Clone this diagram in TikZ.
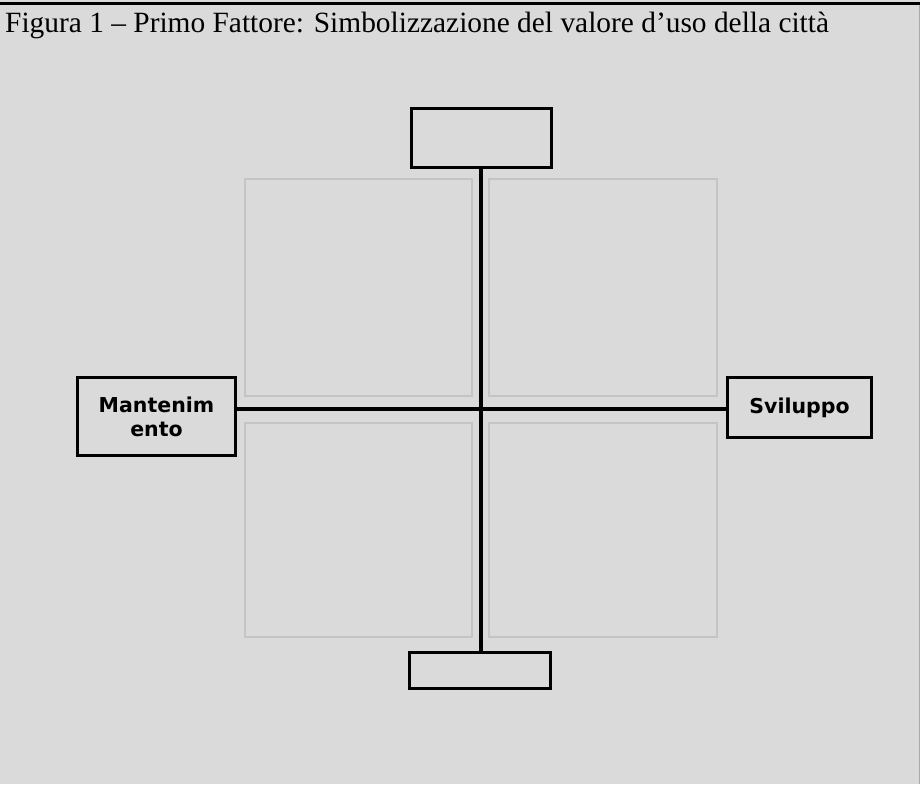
\documentclass[tikz,border=0pt]{standalone}
\usepackage{fontspec}
\setmainfont{Liberation Serif}
\newfontfamily\boxfont{DejaVu Sans}
\usepackage{xcolor}
\definecolor{figbg}{RGB}{218,218,218}
\definecolor{quadgray}{RGB}{196,196,196}
\definecolor{edgegray}{RGB}{170,170,170}
\usepackage{tikz}
\usetikzlibrary{positioning,calc}

\tikzset{
  axisbox/.style={draw=black, line width=3pt, fill=figbg, inner sep=0pt,
    font=\boxfont\bfseries\fontsize{20.5}{24}\selectfont, align=center},
  axisline/.style={black, line width=3.5pt},
  quadrant/.style={draw=quadgray, line width=1.5pt}
}

\begin{document}
\begin{tikzpicture}[x=1pt, y=-1pt]
% Background and frame
\fill[figbg] (0,0) rectangle (920,784);
\useasboundingbox (0,0) rectangle (920,784);
\draw[black, line width=3.5pt] (0,3.5) -- (920,3.5);
\draw[edgegray, line width=1pt] (919,5) -- (919,784);
% Title
\node[anchor=base west, font=\fontsize{29.4}{34}\selectfont, inner sep=0pt] (title) at (5,33) {Figura 1 -- Primo Fattore: Simbolizzazione del valore d’uso della città};
% Quadrants
\foreach \xa/\ya/\xb/\yb in {245/179/472/396, 489/179/717/396, 245/423/472/637, 489/423/717/637}
  \draw[quadrant] (\xa,\ya) rectangle (\xb,\yb);
% Axis boxes
\coordinate (centre) at (481,409);
\node[axisbox, minimum width=140pt, minimum height=59pt] (top) at (481.5,138) {};
\node[axisbox, minimum width=141pt, minimum height=36pt] (bottom) at (480,670.5) {};
\node[axisbox, minimum width=158pt, minimum height=78pt] (left) at (156.5,416.5) {Mantenim\\ento};
\node[axisbox, minimum width=144pt, minimum height=60pt] (right) at (799.5,407.5) {Sviluppo};
% Axes
\draw[axisline] (top.south -| centre) -- (bottom.north -| centre);
\draw[axisline] (left.east |- centre) -- (right.west |- centre);
\end{tikzpicture}
\end{document}
